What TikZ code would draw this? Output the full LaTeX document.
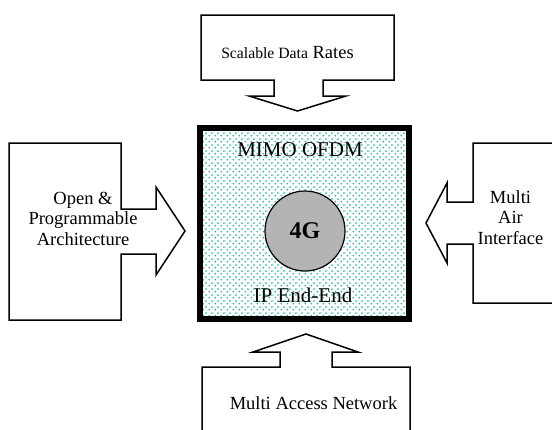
\documentclass[tikz,border=0pt]{standalone}
\usepackage{fontspec}
\setmainfont{Liberation Serif}
\usepackage{tikz}
\usetikzlibrary{positioning, patterns.meta}
\usepackage{xcolor}
\definecolor{dotcolor}{RGB}{0,205,150}
\definecolor{corecolor}{RGB}{180,180,180}

\pgfdeclarepattern{
  name=greendots,
  type=uncolored,
  bottom left={\pgfpoint{0pt}{0pt}},
  top right={\pgfpoint{5.6pt}{5.6pt}},
  tile size={\pgfpoint{5.6pt}{5.6pt}},
  code={
    \pgfpathcircle{\pgfpoint{1.4pt}{1.4pt}}{1pt}
    \pgfpathcircle{\pgfpoint{4.2pt}{4.2pt}}{1pt}
    \pgfusepath{fill}
  }
}

\begin{document}
\begin{tikzpicture}[x=1pt, y=-1pt]
  \tikzset{
    callout/.style={
      draw,
      line width=1.5pt,
      line join=miter
    },
    core/.style={
      draw,
      line width=6pt,
      pattern=greendots,
      pattern color=dotcolor
    },
    hub/.style={
      draw,
      circle,
      line width=1.2pt,
      fill=corecolor,
      minimum size=80pt,
      inner sep=0pt,
      font=\fontsize{24}{26}\selectfont\bfseries
    },
    inner/.style={
      font=\fontsize{21}{23}\selectfont,
      inner sep=0pt
    },
    label/.style={
      align=center,
      inner sep=0pt,
      font=\fontsize{18.5}{20.5}\selectfont
    }
  }
  \useasboundingbox (0,0) rectangle (552,429);

  % Draw the centre block
  \draw[core] (200,128) rectangle (409,319);
  \node[hub] at (305,231) (hub) {4G};
  \node[inner] at (300,150) (mimo) {MIMO OFDM};
  \node[inner] at (303,295) (ip) {IP End-End};

  % Top callout
  \draw[callout] (201,15) -- (394,15) -- (394,80) -- (323,80) -- (323,96)
    -- (346,96) -- (297.5,111) -- (249,96) -- (274,96) -- (274,80)
    -- (201,80) -- cycle;
  \node[label, anchor=base] at (287.5,58) (rates) {%
    {\fontsize{15.7}{18}\selectfont Scalable Data} Rates};

  % Left callout
  \draw[callout] (9,143) -- (121,143) -- (121,209) -- (156,209) -- (156,187)
    -- (185,231) -- (156,275) -- (156,254) -- (121,254) -- (121,320)
    -- (9,320) -- cycle;
  \node[label] at (83,218.5) (open) {Open \&\\Programmable\\Architecture};

  % Right callout
  \draw[callout] (553,143) -- (473,143) -- (473,202) -- (447,202) -- (447,183)
    -- (426,223) -- (447,263) -- (447,244) -- (473,244) -- (473,303)
    -- (553,303);
  \node[label] at (510.5,217.5) (air) {Multi\\Air\\Interface};

  % Bottom callout
  \draw[callout] (202,430) -- (202,367) -- (280,367) -- (280,352) -- (253,352)
    -- (306,334) -- (358,352) -- (332,352) -- (332,367) -- (410,367)
    -- (410,430);
  \node[label] at (313.5,403.5) (access) {Multi Access Network};

\end{tikzpicture}
\end{document}
